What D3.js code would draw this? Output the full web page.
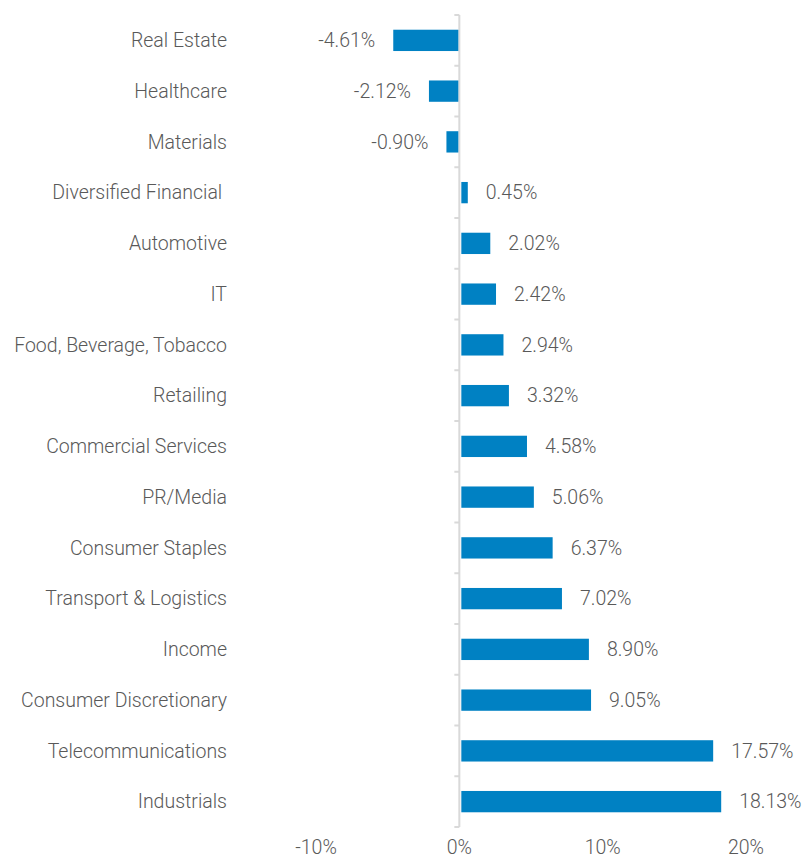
<!DOCTYPE html>
<html>
<head>
<meta charset="utf-8">
<script src="https://cdn.jsdelivr.net/npm/d3@7"></script>
<style>
  html, body { margin: 0; padding: 0; background: #fff; }
  svg { display: block; }
  text { font-family: Roboto, "Liberation Sans", Arial, sans-serif; font-weight: 300; fill: #595959; }
</style>
</head>
<body>
<svg id="chart" width="808" height="855"></svg>
<script>
const categories = [
  "Real Estate", "Healthcare", "Materials", "Diversified Financial ", "Automotive", "IT",
  "Food, Beverage, Tobacco", "Retailing", "Commercial Services", "PR/Media",
  "Consumer Staples", "Transport & Logistics", "Income", "Consumer Discretionary",
  "Telecommunications", "Industrials"
];
const values = [-4.61, -2.12, -0.90, 0.45, 2.02, 2.42, 2.94, 3.32, 4.58, 5.06, 6.37, 7.02, 8.90, 9.05, 17.57, 18.13];
const tickValues = [-10, 0, 10, 20];
const tickLabels = ["-10%", "0%", "10%", "20%"];

const svg = d3.select("#chart");
const barColor = "#0081C3";
const axisColor = "#d9d9d9";
const fs = 19.5;

const x = d3.scaleLinear().domain([-10, 20]).range([316, 746]);
const y = d3.scaleBand().domain(categories).range([15, 827]).paddingInner(0.58).paddingOuter(0.29);
const step = y.step();
const x0 = x(0);

// category boundary ticks
const bounds = d3.range(categories.length + 1).map(i => 15 + i * step);
svg.append("g").selectAll("line").data(bounds).join("line")
  .attr("x1", x0 - 5).attr("x2", x0)
  .attr("y1", d => d).attr("y2", d => d)
  .attr("stroke", axisColor).attr("stroke-width", 2);

// axis line
svg.append("line")
  .attr("x1", x0).attr("x2", x0)
  .attr("y1", 15).attr("y2", 827)
  .attr("stroke", axisColor).attr("stroke-width", 2);

// bars
svg.append("g").selectAll("rect").data(values).join("rect")
  .attr("x", d => d >= 0 ? x0 + 2 : x(d))
  .attr("width", d => Math.abs(x(d) - x0) - (d >= 0 ? 0 : 1))
  .attr("y", (d, i) => y(categories[i]))
  .attr("height", y.bandwidth())
  .attr("fill", barColor);

// value labels
svg.append("g").selectAll("text").data(values).join("text")
  .attr("x", d => d >= 0 ? x(d) + 20 : x(d) - 18)
  .attr("y", (d, i) => y(categories[i]) + y.bandwidth() / 2)
  .attr("dy", "0.35em")
  .attr("text-anchor", d => d >= 0 ? "start" : "end")
  .attr("font-size", fs)
  .text(d => d.toFixed(2) + "%");

// category labels
svg.append("g").selectAll("text").data(categories).join("text")
  .attr("x", 227)
  .attr("y", d => y(d) + y.bandwidth() / 2)
  .attr("dy", "0.35em")
  .attr("text-anchor", "end")
  .attr("font-size", fs)
  .style("white-space", "pre")
  .text(d => d);

// x tick labels
svg.append("g").selectAll("text").data(tickValues).join("text")
  .attr("x", d => x(d))
  .attr("y", 847)
  .attr("dy", "0.35em")
  .attr("text-anchor", "middle")
  .attr("font-size", fs)
  .text((d, i) => tickLabels[i]);
</script>
</body>
</html>
